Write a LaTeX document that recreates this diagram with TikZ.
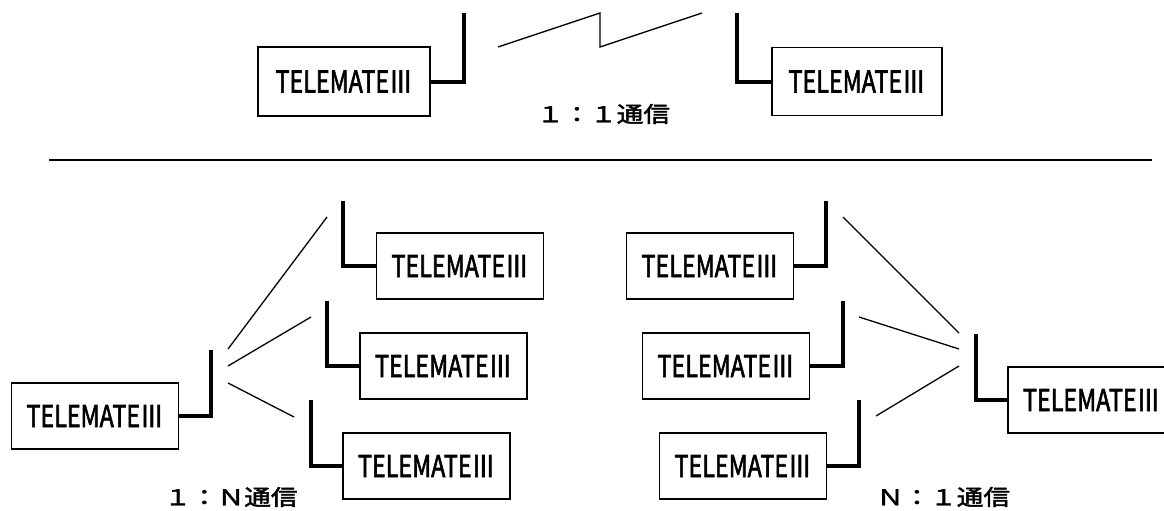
\documentclass[tikz,border=0pt]{standalone}
\usepackage{fontspec}
\usepackage{graphicx}
\newfontfamily\jpfont{Noto Sans CJK JP}[FakeBold=2.4]
\newfontfamily\jplab{Noto Sans CJK JP}[FakeBold=2]
\newcommand{\tmtext}{\resizebox{137pt}{22pt}{\jpfont TELEMATEⅢ}}
\newcommand{\lbl}[1]{\resizebox*{133pt}{20pt}{\jplab #1}}
\tikzset{
  tmbox/.style={draw, line width=1.4pt, minimum width=167pt, minimum height=66pt, inner sep=0pt},
  ant/.style={line width=4pt, line join=miter},
  link/.style={line width=1.3pt},
  sepline/.style={line width=2pt},
  lab/.style={inner sep=0pt}
}
\begin{document}
\begin{tikzpicture}[x=1pt,y=-1pt]
\useasboundingbox (0,0) rectangle (1164,511);
\fill[white] (0,0) rectangle (1164,511);

% ---- 1:1 ----
\node[tmbox, minimum width=172pt, minimum height=69pt] (tA) at (344,81.5) {\tmtext};
\node[tmbox, minimum width=170pt, minimum height=68pt] (tB) at (857,81.5) {\tmtext};
\coordinate (aA) at (464,13);
\coordinate (aB) at (737,13);
\draw[ant] (tA.east) -| (aA);
\draw[ant] (tB.west) -| (aB);
\coordinate (z1) at (498,47);
\coordinate (z2) at (600,13);
\coordinate (z3) at (600,47);
\coordinate (z4) at (702,13);
\draw[link] (z1) -- (z2) -- (z3) -- (z4);
\node[lab] (l11) at (603.5,114) {\lbl{１：１通信}};

% ---- separator ----
\coordinate (s1) at (49,160);
\coordinate (s2) at (1152,160);
\draw[sepline] (s1) -- (s2);

% ---- 1:N ----
\node[tmbox] (L) at (95,416) {\tmtext};
\node[tmbox] (R1) at (460,266) {\tmtext};
\node[tmbox] (R2) at (443.5,366) {\tmtext};
\node[tmbox] (R3) at (426.5,466) {\tmtext};
\coordinate (aL) at (211,350);
\coordinate (aR1) at (343,201);
\coordinate (aR2) at (327,301);
\coordinate (aR3) at (311,400);
\draw[ant] (L.east) -| (aL);
\draw[ant] (R1.west) -| (aR1);
\draw[ant] (R2.west) -| (aR2);
\draw[ant] (R3.west) -| (aR3);
\coordinate (p1a) at (228,349); \coordinate (p1b) at (327,217);
\coordinate (p2a) at (228,366); \coordinate (p2b) at (311,317);
\coordinate (p3a) at (228,383); \coordinate (p3b) at (294,417);
\draw[link] (p1a) -- (p1b);
\draw[link] (p2a) -- (p2b);
\draw[link] (p3a) -- (p3b);
\node[lab] (l1n) at (231,497) {\lbl{１：Ｎ通信}};

% ---- N:1 ----
\node[tmbox] (A1) at (710,266) {\tmtext};
\node[tmbox] (A2) at (726,366) {\tmtext};
\node[tmbox] (A3) at (743,466) {\tmtext};
\node[tmbox] (R) at (1091.5,400) {\tmtext};
\coordinate (aA1) at (826,201);
\coordinate (aA2) at (843,301);
\coordinate (aA3) at (859,400);
\coordinate (aR) at (976,334);
\draw[ant] (A1.east) -| (aA1);
\draw[ant] (A2.east) -| (aA2);
\draw[ant] (A3.east) -| (aA3);
\draw[ant] (R.west) -| (aR);
\coordinate (q1a) at (843,217); \coordinate (q1b) at (959,333);
\coordinate (q2a) at (859,317); \coordinate (q2b) at (959,349);
\coordinate (q3a) at (876,416); \coordinate (q3b) at (959,366);
\draw[link] (q1a) -- (q1b);
\draw[link] (q2a) -- (q2b);
\draw[link] (q3a) -- (q3b);
\node[lab] (ln1) at (943.5,497) {\lbl{Ｎ：１通信}};
\end{tikzpicture}
\end{document}
